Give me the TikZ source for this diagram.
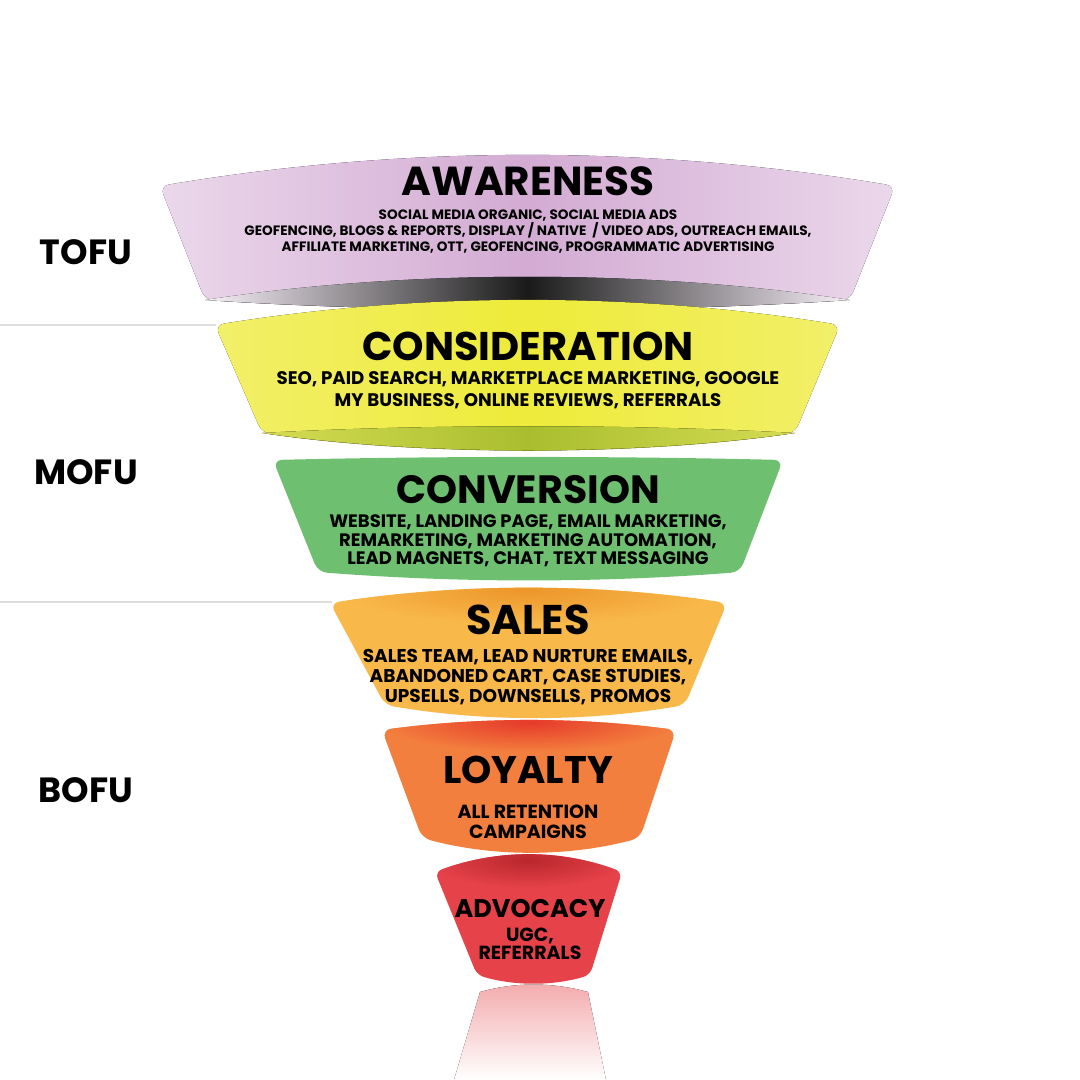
\documentclass[tikz,border=0pt]{standalone}
\usepackage{fontspec}
\setmainfont{Poppins}
\usetikzlibrary{positioning}
\definecolor{awarel}{HTML}{EBD8EB}
\definecolor{awarec}{HTML}{D3ABD3}
\definecolor{considc}{HTML}{EEEB3A}
\definecolor{considl}{HTML}{F2EF6A}
\definecolor{considd}{HTML}{A9BE2E}
\definecolor{convc}{HTML}{6EC070}
\definecolor{salesc}{HTML}{F9B84A}
\definecolor{salesd}{HTML}{EC962A}
\definecolor{loyalc}{HTML}{F37F3E}
\definecolor{loyald}{HTML}{E53A2A}
\definecolor{advoc}{HTML}{E6424A}
\definecolor{advod}{HTML}{B9262C}
\definecolor{reflc}{HTML}{F3AAAC}
\definecolor{rulec}{HTML}{DDDDDD}

\tikzset{
  title/.style={font=\bfseries\fontsize{#1}{#1}\selectfont,inner sep=0pt},
  body/.style 2 args={font=\bfseries\fontsize{#1}{#2}\selectfont,align=center,inner sep=0pt},
  stage/.style={font=\bfseries\fontsize{35}{35}\selectfont,inner sep=0pt}
}

\begin{document}
\begin{tikzpicture}[x=1pt,y=-1pt]
  \useasboundingbox (0,0) rectangle (1080,1080);
  % dividers
  \draw[rulec,line width=1.2] (0,325) -- (216,325);
  \draw[rulec,line width=1.2] (0,602) -- (332,602);
  % awareness
  \fill[rounded corners=9,left color=awarel,right color=awarel,middle color=awarec]
    (160,186) .. controls (405,145) and (650,145) .. (895,186)
    -- (850,300) .. controls (650,313) and (405,313) .. (205,300) -- cycle;
  \fill[left color=awarel!40!white,right color=awarel!40!white,middle color=black!90]
    (205,300) .. controls (405,269) and (650,269) .. (850,300)
    .. controls (650,313) and (405,313) .. (205,300) -- cycle;
  % consideration
  \fill[rounded corners=9,left color=considl,right color=considl,middle color=considc]
    (215,325) .. controls (420,292) and (636,292) .. (840,325)
    -- (795,433) .. controls (636,456) and (420,456) .. (262,433) -- cycle;
  \fill[left color=considl!60!considd,right color=considl!60!considd,middle color=considd]
    (262,433) .. controls (420,424) and (636,424) .. (795,433)
    .. controls (636,456) and (420,456) .. (262,433) -- cycle;
  % conversion
  \fill[rounded corners=9,convc] (273,460) .. controls (440,456) and (616,456) .. (783,460)
    -- (740,572) .. controls (600,583) and (458,583) .. (318,572) -- cycle;
  % sales
  \begin{scope}
    \clip[rounded corners=9] (330,603) .. controls (462,583) and (595,583) .. (727,603)
      -- (685,705) .. controls (585,722) and (485,722) .. (385,705) -- cycle;
    \fill[salesc] (320,570) rectangle (740,730);
    \shade[inner color=salesd,outer color=salesc] (528,590) ellipse [x radius=190,y radius=34];
  \end{scope}
  % loyalty
  \begin{scope}
    \clip[rounded corners=9] (382,730) .. controls (480,717) and (578,717) .. (676,730)
      -- (640,838) .. controls (567,857) and (494,857) .. (422,838) -- cycle;
    \fill[loyalc] (370,700) rectangle (690,870);
    \shade[inner color=loyald,outer color=loyalc] (528,722) ellipse [x radius=150,y radius=30];
  \end{scope}
  % advocacy
  \begin{scope}
    \clip[rounded corners=7] (435,872) .. controls (497,849) and (560,849) .. (622,872)
      -- (590,975) .. controls (552,986) and (515,986) .. (477,975) -- cycle;
    \fill[advoc] (420,840) rectangle (640,1000);
    \shade[inner color=advod,outer color=advoc] (528,860) ellipse [x radius=100,y radius=28];
  \end{scope}
  % reflection
  \fill[top color=reflc,bottom color=white]
    (480,992) .. controls (515,982) and (552,982) .. (588,992)
    -- (606,1080) -- (454,1080) -- cycle;
  % stage labels
  \node[stage] (tofu) at (86,252) {TOFU};
  \node[stage] (mofu) at (86,472) {MOFU};
  \node[stage] (bofu) at (86,790) {BOFU};
  % titles and channels
  \node[title=40.5] (awtitle) at (528,181) {AWARENESS};
  \node[body={13.6}{16}] (awtext) at (528,232) {SOCIAL MEDIA ORGANIC, SOCIAL MEDIA ADS\\
    GEOFENCING, BLOGS \& REPORTS, DISPLAY / NATIVE \ / VIDEO ADS, OUTREACH EMAILS,\\
    AFFILIATE MARKETING, OTT, GEOFENCING, PROGRAMMATIC ADVERTISING};
  \node[title=40] (cotitle) at (528,346) {CONSIDERATION};
  \node[body={18.2}{22}] (cotext) at (528,390) {SEO, PAID SEARCH, MARKETPLACE MARKETING, GOOGLE\\
    MY BUSINESS, ONLINE REVIEWS, REFERRALS};
  \node[title=39.5] (cvtitle) at (528,490) {CONVERSION};
  \node[body={18}{18.5}] (cvtext) at (528,541) {WEBSITE, LANDING PAGE, EMAIL MARKETING,\\
    REMARKETING, MARKETING AUTOMATION,\\ LEAD MAGNETS, CHAT, TEXT MESSAGING};
  \node[title=41.5] (satitle) at (528,620) {SALES};
  \node[body={18.5}{20}] (satext) at (528,677) {SALES TEAM, LEAD NURTURE EMAILS,\\
    ABANDONED CART, CASE STUDIES,\\ UPSELLS, DOWNSELLS, PROMOS};
  \node[title=38.5] (lytitle) at (528,770) {LOYALTY};
  \node[body={19}{19.5}] (lytext) at (528,822) {ALL RETENTION\\ CAMPAIGNS};
  \node[title=25.5] (adtitle) at (530,908) {ADVOCACY};
  \node[body={19}{18.5}] (adtext) at (530,944) {UGC,\\ REFERRALS};
\end{tikzpicture}
\end{document}
